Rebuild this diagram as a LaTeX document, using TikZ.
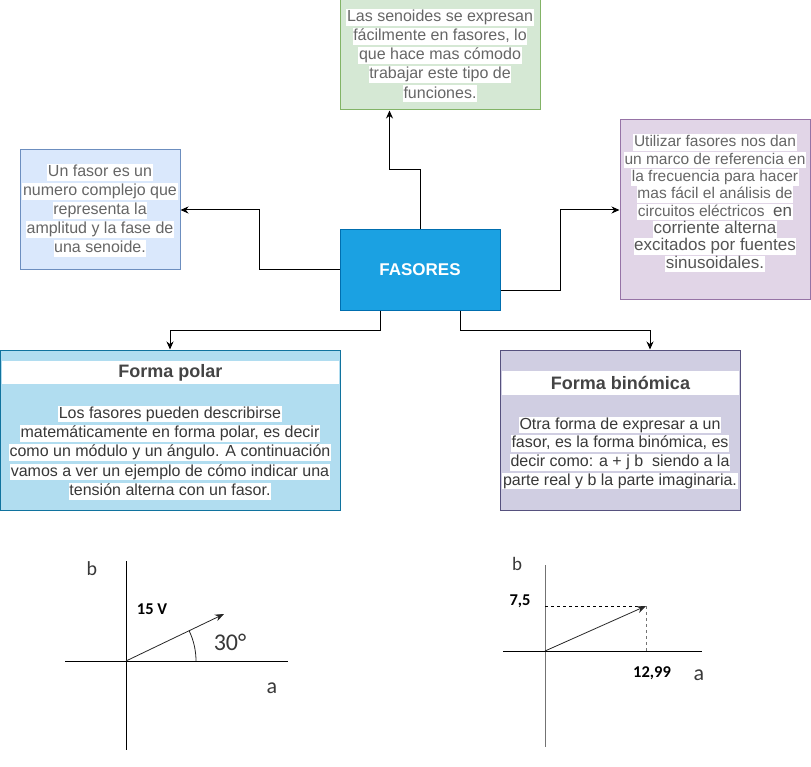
\documentclass[tikz,border=0pt]{standalone}
\usepackage{fontspec}
\setmainfont{Liberation Sans}
\newfontfamily\calib{Carlito}
\usetikzlibrary{arrows.meta,calc}
\definecolor{gfill}{HTML}{D5E8D4}\definecolor{gline}{HTML}{82B366}
\definecolor{bfill}{HTML}{DAE8FC}\definecolor{bline}{HTML}{6C8EBF}
\definecolor{pfill}{HTML}{E1D5E7}\definecolor{pline}{HTML}{9673A6}
\definecolor{ffill}{HTML}{1BA1E2}\definecolor{fline}{HTML}{006EAF}
\definecolor{polfill}{HTML}{B1DDF0}\definecolor{polline}{HTML}{10739E}
\definecolor{binfill}{HTML}{D0CEE2}\definecolor{binline}{HTML}{56517E}
\definecolor{gtext}{HTML}{666666}\definecolor{dtext}{HTML}{555555}
\definecolor{ttext}{HTML}{444444}\definecolor{btext}{HTML}{383838}
\newcommand\fsz[1]{\fontsize{#1}{#1}\selectfont}
\begin{document}
\begin{tikzpicture}[x=1pt,y=-1pt,
  box/.style={draw,line width=1pt,inner sep=0pt},
  hl/.style={fill=white,inner sep=0.6pt,text height=12pt,text depth=3.6pt},
  conn/.style={draw,line width=1pt,-{Stealth[length=8pt,width=7pt]}},
  vec/.style={draw,line width=0.8pt,-{Stealth[length=9pt,width=7pt]}},
  lbl/.style={font=\calib\fsz{20},text=btext,inner sep=0pt},
  num/.style={font=\calib\bfseries\fsz{16.5},inner sep=0pt}]
\useasboundingbox (0,0) rectangle (811,767);

% boxes
\node[box,draw=gline,fill=gfill,minimum width=200pt,minimum height=110pt] (green) at (440,55) {};
\node[box,draw=bline,fill=bfill,minimum width=160pt,minimum height=120pt] (blue) at (100,210) {};
\node[box,draw=pline,fill=pfill,minimum width=190pt,minimum height=180pt] (purple) at (715,210) {};
\node[box,draw=fline,fill=ffill,minimum width=160pt,minimum height=80pt,text=white,font=\bfseries\fsz{17}] (fas) at (420,270) {FASORES};
\node[box,draw=polline,fill=polfill,minimum width=340pt,minimum height=160pt] (polar) at (170,430) {};
\node[box,draw=binline,fill=binfill,minimum width=240pt,minimum height=160pt] (bin) at (620,430) {};

% title bands
\node[fill=white,inner sep=0pt,minimum width=337pt,minimum height=23pt,font=\bfseries\fsz{18},text=ttext] (poltitle) at (170.5,372.5) {Forma polar};
\node[fill=white,inner sep=0pt,minimum width=237pt,minimum height=24pt,font=\bfseries\fsz{18},text=ttext] (bintitle) at (620.5,383) {Forma binómica};

% texts
\foreach \y/\t [count=\i] in {17.5/{Las senoides se expresan},36.6/{fácilmente en fasores, lo},55.7/{que hace mas cómodo},74.8/{trabajar este tipo de},93.9/{funciones.}}
  \node[hl,font=\fsz{16},text=gtext] (gt\i) at (440,\y) {\t};
\foreach \y/\t [count=\i] in {172.3/{Un fasor es un},191.3/{numero complejo que},210.3/{representa la},229.3/{amplitud y la fase de},248.3/{una senoide.}}
  \node[hl,font=\fsz{16},text=gtext] (bt\i) at (100,\y) {\t};
\foreach \y/\t [count=\i] in {142.7/{Utilizar fasores nos dan},160/{un marco de referencia en},177.3/{la frecuencia para hacer},194.7/{mas fácil el análisis de}}
  \node[hl,font=\fsz{15.5},text=gtext] (pt\i) at (715,\y) {\t};
\node[hl,text=gtext] (pt5) at (715,212) {\fsz{15.5}circuitos eléctricos\ \ {\color{dtext}\fsz{17}en}};
\foreach \y/\t [count=\i from 6] in {229.3/{corriente alterna},246.7/{excitados por fuentes},264/{sinusoidales. }}
  \node[hl,font=\fsz{17},text=dtext] (pt\i) at (715,\y) {\t};
\foreach \y/\t [count=\i] in {414/{Los fasores pueden describirse},433.3/{matemáticamente en forma polar, es decir},452.7/{como un módulo y un ángulo. A continuación},472/{vamos a ver un ejemplo de cómo indicar una},491.3/{tensión alterna con un fasor.}}
  \node[hl,font=\fsz{16},text=btext] (lt\i) at (170,\y) {\t};
\foreach \y/\t [count=\i] in {425/{Otra forma de expresar a un},443.7/{fasor, es la forma binómica, es},462.3/{decir como: a + j b\ \ siendo a la},481/{parte real y b la parte imaginaria.}}
  \node[hl,font=\fsz{16},text=btext] (nt\i) at (620,\y) {\t};

% connectors
\draw[conn] (fas.west) -- ++(-80,0) |- (blue.east);
\draw[conn] (fas.north) -- ++(0,-60) -| ($(green.south west)+(50,0)$);
\draw[conn] ($(fas.south east)+(0,-20)$) -- ++(60,0) |- (purple.west);
\draw[conn] ($(fas.south)+(-40,0)$) -- ++(0,20) -| (polar.north);
\draw[conn] ($(fas.south)+(40,0)$) -- ++(0,20) -| ($(bin.north)+(30,0)$);

% polar diagram
\coordinate (o1) at (126,661);
\draw[line width=0.9pt] (126,561) -- (126,750);
\draw[line width=0.9pt] (65,661) -- (288,661);
\coordinate (p1) at (224,614);
\draw[vec,draw=black!85] (o1) -- (p1);
\draw[line width=0.8pt,black!85] (196,661) arc[start angle=0,end angle=-25.6,radius=70];
\node[lbl] (b1) at (92,569) {b};
\node[num] (v1) at (152,609) {15 V};
\node[lbl,font=\calib\fsz{24}] (ang) at (230,642) {30°};
\node[lbl,font=\calib\fsz{22}] (a1) at (272,688) {a};

% binomial diagram
\coordinate (o2) at (545,651);
\coordinate (p2) at (646,606);
\draw[line width=1pt,black!55] (545,565) -- (545,747);
\draw[line width=0.9pt] (503,651) -- (702,651);
\draw[dashed,line width=0.8pt] (545,606) -- (p2);
\draw[dashed,line width=0.8pt,black!55] (p2) -- (646,651);
\draw[vec,draw=black!85] (o2) -- (p2);
\node[lbl,font=\calib\fsz{19}] (b2) at (517,564) {b};
\node[num] (v2) at (520,601) {7,5};
\node[num] (v3) at (652,673) {12,99};
\node[lbl,font=\calib\fsz{22}] (a2) at (699,675) {a};
\end{tikzpicture}
\end{document}
